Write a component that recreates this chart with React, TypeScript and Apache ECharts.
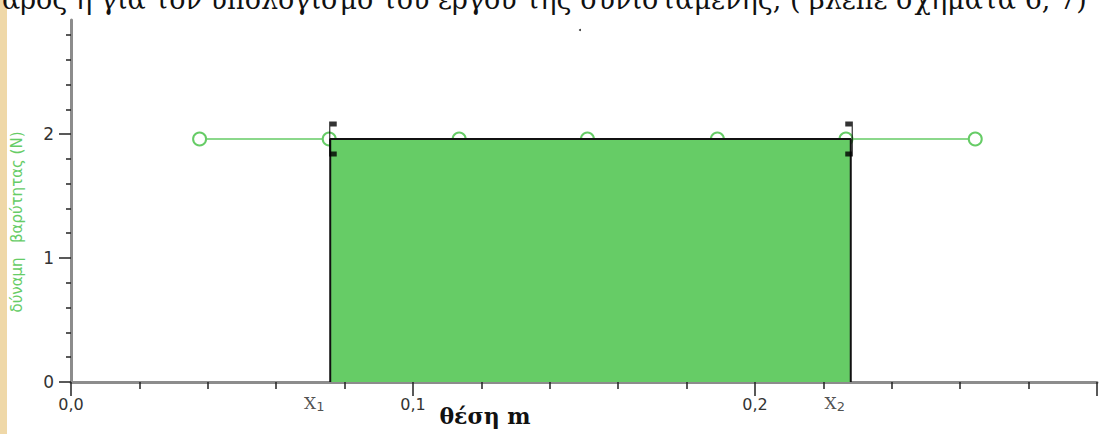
import React, { useEffect, useRef } from "react";
import * as echarts from "echarts";

// ---- data ----
const positions = [0.0376, 0.0755, 0.1135, 0.151, 0.189, 0.2266, 0.2644]; // θέση (m)
const forces = [1.96, 1.96, 1.96, 1.96, 1.96, 1.96, 1.96]; // δύναμη βαρύτητας (N)
const boundsX = [0.0758, 0.228]; // X1, X2
const boundLabels = ["1", "2"]; // subscripts of X
const areaForce = 1.96;
const xTickLabels = ["0,0", "0,1", "0,2"];
const yMajorTicks = [0, 1, 2];
const yMinorTicks = [0.2, 0.4, 0.6, 0.8, 1.2, 1.4, 1.6, 1.8, 2.2, 2.4, 2.6, 2.8];
const headerText =
  "αρος ή για τον υπολογισμό του έργου της συνισταμένης, ( βλέπε σχήματα 6, 7)";
const yName = "δύναμη   βαρύτητας (N)";
const xName = "θέση m";

export default function App() {
  const ref = useRef<HTMLDivElement>(null);
  useEffect(() => {
    if (!ref.current) return;
    const chart = echarts.init(ref.current, undefined, { renderer: "svg" });
    const green = "#66cc66";
    const tickStyle = { color: "#222", width: 1.5 };
    const axisLineStyle = { color: "#8c8c8c", width: 3 };
    const areaData = [
      [boundsX[0], 0],
      [boundsX[0], areaForce],
      [boundsX[1], areaForce],
      [boundsX[1], 0],
    ];
    chart.setOption({
      animation: false,
      backgroundColor: "#ffffff",
      textStyle: { fontFamily: "DejaVu Sans", fontSize: 16, color: "#333" },
      grid: { left: 71, right: 0, top: 20, bottom: 52, containLabel: false },
      xAxis: {
        type: "value",
        min: 0,
        max: 0.3,
        interval: 0.1,
        axisLine: { lineStyle: axisLineStyle },
        axisTick: { length: 14, lineStyle: tickStyle },
        minorTick: { show: true, splitNumber: 5, length: 7, lineStyle: tickStyle },
        splitLine: { show: false },
        axisLabel: {
          show: true,
          margin: 14,
          fontSize: 16,
          fontFamily: "DejaVu Sans",
          color: "#333",
          textStyle: { fontSize: 16 },
          formatter: (v: number) => {
            const i = Math.round(v * 10);
            return i < xTickLabels.length ? xTickLabels[i] : "";
          },
        },
      },
      yAxis: [
        {
          type: "value",
          min: 0,
          max: 2.92,
          position: "left",
          axisLine: { show: true, lineStyle: axisLineStyle },
          axisTick: { show: true, customValues: yMajorTicks, length: 12, lineStyle: tickStyle },
          splitLine: { show: false },
          axisLabel: {
            show: true,
            customValues: yMajorTicks,
            margin: 17,
            fontSize: 17,
            fontFamily: "DejaVu Sans",
            color: "#333",
            textStyle: { fontSize: 17 },
          },
        },
        {
          type: "value",
          min: 0,
          max: 2.92,
          position: "left",
          axisLine: { show: false },
          axisTick: { show: true, customValues: yMinorTicks, length: 5, lineStyle: tickStyle },
          splitLine: { show: false },
          axisLabel: { show: false },
        },
      ],
      series: [
        {
          type: "line",
          z: 2,
          data: positions.map((x, i) => [x, forces[i]]),
          symbol: "emptyCircle",
          symbolSize: 13,
          lineStyle: { color: green, width: 1.5 },
          itemStyle: { color: green, borderColor: green, borderWidth: 1.5 },
        },
        {
          type: "line",
          z: 3,
          data: areaData,
          symbol: "none",
          lineStyle: { color: "#111", width: 2 },
          areaStyle: { color: green, opacity: 1 },
        },
        {
          type: "scatter",
          z: 4,
          data: [
            { value: [boundsX[0], areaForce], symbol: "path://M6,0 L0,0 L0,30 L6,30", symbolOffset: [3, 0] },
            { value: [boundsX[1], areaForce], symbol: "path://M0,0 L6,0 L6,30 L0,30", symbolOffset: [-2, 0] },
          ],
          symbolSize: [7, 30],
          itemStyle: { color: "none", borderColor: "#000", borderWidth: 2.5 },
        },
        {
          type: "scatter",
          z: 5,
          symbolSize: 0,
          data: boundsX.map((x) => ({ value: [x, 0] })),
          label: {
            show: true,
            position: "bottom",
            distance: 11,
            offset: [-16, 0],
            formatter: (p: any) => `{x|X}{s|${boundLabels[p.dataIndex]}}`,
            rich: {
              x: { fontFamily: "DejaVu Serif", fontSize: 17, color: "#222", lineHeight: 20 },
              s: { fontFamily: "DejaVu Sans", fontSize: 13, color: "#222", lineHeight: 14, verticalAlign: "bottom" },
            },
          },
        },
      ],
      graphic: [
        { type: "rect", shape: { x: 0, y: 0, width: 7, height: 434 }, style: { fill: "#efd8a8" }, z: 0 },
        {
          type: "text",
          x: 2,
          y: 13,
          style: { text: headerText, font: "27px 'DejaVu Serif'", fill: "#111", align: "left", verticalAlign: "bottom" },
        },
        { type: "circle", shape: { cx: 580, cy: 30, r: 1 }, style: { fill: "#333" } },
        {
          type: "text",
          x: 17,
          y: 222,
          rotation: Math.PI / 2,
          style: { text: yName, font: "15px 'DejaVu Sans'", fill: green, align: "center", verticalAlign: "middle" },
        },
        {
          type: "text",
          x: 485,
          y: 416,
          style: { text: xName, font: "bold 22px 'DejaVu Serif'", fill: "#111", align: "center", verticalAlign: "middle" },
        },
      ],
    });
    return () => chart.dispose();
  }, []);
  return (
    <div
      ref={ref}
      style={{ position: "absolute", left: 0, top: 0, width: 1100, height: 434 }}
    />
  );
}
